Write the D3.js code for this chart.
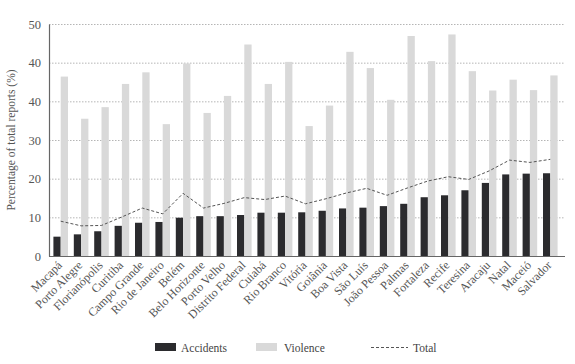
<!DOCTYPE html>
<html>
<head>
<meta charset="utf-8">
<script src="https://cdn.jsdelivr.net/npm/d3@7"></script>
<style>
  html, body { margin: 0; padding: 0; background: #fff; }
  svg { display: block; }
  text { font-family: "Liberation Serif", "DejaVu Serif", serif; }
</style>
</head>
<body>
<svg id="chart" width="575" height="364"></svg>
<script>
const cities = ["Macapá","Porto Alegre","Florianópolis","Curitiba","Campo Grande","Rio de Janeiro","Belém","Belo Horizonte","Porto Velho","Distrito Federal","Cuiabá","Rio Branco","Vitória","Goiânia","Boa Vista","São Luís","João Pessoa","Palmas","Fortaleza","Recife","Teresina","Aracaju","Natal","Maceió","Salvador"];
const accidents = [5.0,5.6,6.4,7.8,8.6,8.8,9.9,10.3,10.3,10.6,11.2,11.2,11.3,11.7,12.3,12.5,12.9,13.5,15.2,15.7,17.0,18.9,21.1,21.3,21.4];
const violence = [46.4,35.5,38.5,44.5,47.5,34.1,49.8,37.0,41.4,54.7,44.5,50.2,33.6,38.9,52.8,48.6,40.4,56.9,50.4,57.3,47.8,42.8,45.6,42.9,46.7];
const total = [9.0,7.8,7.9,10.1,12.4,10.9,16.2,12.4,13.6,15.1,14.6,15.5,13.5,14.8,16.3,17.5,15.7,17.6,19.4,20.5,19.8,22.0,24.8,24.2,25.0];
const yTickValues = [0,10,20,30,40,50,60];
const yTickLabels = ["0","10","20","30","40","40","50"];
const yTitle = "Percentage of total reports (%)";
const legendItems = ["Accidents","Violence","Total"];

const colAcc = "#2b2b2e", colViol = "#d9d9d9", colTotal = "#555555";

const svg = d3.select("#chart");
const x0 = 49, x1 = 565, yTop = 24, yBot = 256;

const y = d3.scaleLinear().domain([0, 60]).range([yBot, yTop]);
const x = d3.scaleBand().domain(cities).range([50, 561]).paddingInner(0.285).paddingOuter(0.167);
const xs = d3.scaleBand().domain(["a","v"]).range([0, x.bandwidth()]).padding(0);

// gridlines
svg.append("g").selectAll("line").data(yTickValues.filter(v => v > 0)).join("line")
  .attr("x1", x0).attr("x2", x1)
  .attr("y1", d => y(d) + 0.5).attr("y2", d => y(d) + 0.5)
  .attr("stroke", "#b5b5b5").attr("stroke-width", 1).attr("stroke-dasharray", "1.5,1.5");

// y axis
const yAxis = d3.axisLeft(y).tickValues(yTickValues).tickSize(0).tickPadding(8)
  .tickFormat((d, i) => yTickLabels[i]);
const gy = svg.append("g").attr("transform", `translate(${x0},0)`).call(yAxis);
gy.attr("font-family", null);
gy.select(".domain").attr("stroke", "#666").attr("stroke-width", 1.2);
gy.selectAll("text").attr("font-size", 12.5).attr("fill", "#555")
  .style("font-family", '"Liberation Serif", serif');

// bars
const groups = svg.append("g").selectAll("g").data(cities).join("g")
  .attr("transform", d => `translate(${x(d)},0)`);
groups.append("rect")
  .attr("x", xs("a")).attr("width", xs.bandwidth())
  .attr("y", (d, i) => y(accidents[i])).attr("height", (d, i) => y(0) - y(accidents[i]))
  .attr("fill", colAcc);
groups.append("rect")
  .attr("x", xs("v")).attr("width", xs.bandwidth())
  .attr("y", (d, i) => y(violence[i])).attr("height", (d, i) => y(0) - y(violence[i]))
  .attr("fill", colViol);

// x axis baseline
const xAxis = d3.axisBottom(x).tickSize(0).tickFormat("");
const gx = svg.append("g").attr("transform", `translate(0,${yBot})`).call(xAxis);
gx.select(".domain").attr("d", `M${x0},0.5H${x1}`).attr("stroke", "#666").attr("stroke-width", 1.2);

// total line
const line = d3.line()
  .x((d, i) => x(cities[i]) + x.bandwidth() / 2)
  .y(d => y(d));
svg.append("path").datum(total).attr("d", line)
  .attr("fill", "none").attr("stroke", colTotal).attr("stroke-width", 1)
  .attr("stroke-dasharray", "3,2");

// x labels
svg.append("g").selectAll("text").data(cities).join("text")
  .attr("transform", d => `translate(${x(d) + x.bandwidth() / 2 + 2},${yBot + 10}) rotate(-45)`)
  .attr("text-anchor", "end")
  .attr("font-size", 12).attr("fill", "#555")
  .text(d => d);

// y title
svg.append("text")
  .attr("transform", `translate(15,${(yTop + yBot) / 2}) rotate(-90)`)
  .attr("text-anchor", "middle").attr("font-size", 11.5).attr("fill", "#555")
  .text(yTitle);

// legend
const lg = svg.append("g").attr("transform", "translate(0,347)");
lg.append("rect").attr("x", 155).attr("y", -4).attr("width", 21).attr("height", 8).attr("fill", colAcc);
lg.append("text").attr("x", 181).attr("y", 4.5).attr("font-size", 11.5).attr("fill", "#444").text(legendItems[0]);
lg.append("rect").attr("x", 256).attr("y", -4).attr("width", 21).attr("height", 8).attr("fill", colViol);
lg.append("text").attr("x", 284).attr("y", 4.5).attr("font-size", 11.5).attr("fill", "#444").text(legendItems[1]);
lg.append("line").attr("x1", 371).attr("x2", 408).attr("y1", 0.5).attr("y2", 0.5)
  .attr("stroke", colTotal).attr("stroke-width", 1).attr("stroke-dasharray", "3,2");
lg.append("text").attr("x", 413).attr("y", 4.5).attr("font-size", 11.5).attr("fill", "#444").text(legendItems[2]);
</script>
</body>
</html>
